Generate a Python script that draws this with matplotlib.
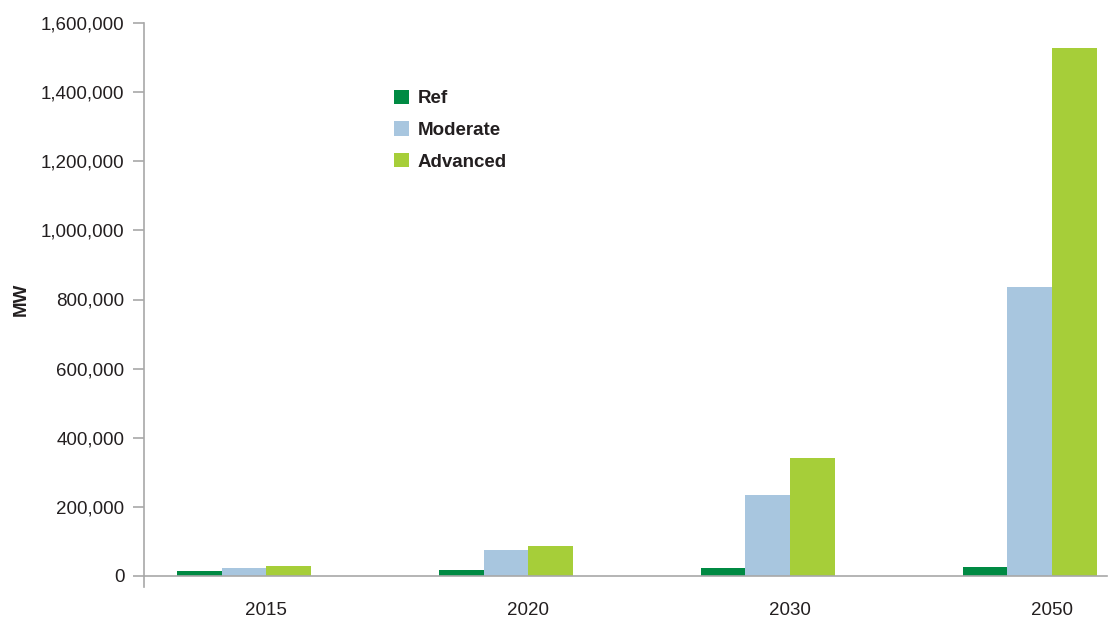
import matplotlib
matplotlib.use("Agg")
import matplotlib.pyplot as plt
import numpy as np
from matplotlib.ticker import FuncFormatter

# Installed capacity by scenario (MW)
years = ['2015', '2020', '2030', '2050']
ref = [15000, 17000, 23000, 26000]
moderate = [23000, 75000, 234000, 837000]
advanced = [29000, 87000, 341000, 1528000]

series = [('Ref', ref, '#008a43'),
          ('Moderate', moderate, '#a8c6df'),
          ('Advanced', advanced, '#a6ce39')]

plt.rcParams['font.family'] = ['Liberation Sans', 'DejaVu Sans']

fig = plt.figure(figsize=(11.08, 6.30), dpi=100)
ax = fig.add_axes([144 / 1108, 54 / 630, (1107 - 144) / 1108, (576 - 23) / 630])

x = np.arange(len(years))
width = 0.17
shift = -0.085  # bar groups sit slightly left of the year labels
for i, (name, vals, col) in enumerate(series):
    ax.bar(x + shift + (i - 1) * width, vals, width, color=col, label=name,
           linewidth=0, zorder=2)

ax.set_xlim(-0.466, 3.21)
ax.set_ylim(0, 1600000)
ax.set_yticks(np.arange(0, 1600001, 200000))
ax.yaxis.set_major_formatter(FuncFormatter(lambda v, p: f'{int(v):,}'))
ax.set_xticks(x)
ax.set_xticklabels(years)

for s in ['top', 'right']:
    ax.spines[s].set_visible(False)
for s in ['left', 'bottom']:
    ax.spines[s].set_color('#a8a8a8')
    ax.spines[s].set_linewidth(1.2)

ax.tick_params(axis='y', length=8, width=1.2, color='#a8a8a8', pad=6,
               labelsize=13.5, labelcolor='#231f20')
ax.tick_params(axis='x', length=0, pad=19, labelsize=13.5, labelcolor='#231f20')

# small extension of the value axis below zero
ax.plot([0, 0], [0, -0.02], transform=ax.transAxes, color='#a8a8a8',
        lw=1.2, clip_on=False)

ax.set_ylabel('MW', fontsize=13.5, fontweight='bold', color='#231f20')
ax.yaxis.set_label_coords(-0.119, 0.5)

leg = ax.legend(loc='upper left', bbox_to_anchor=(0.242, 0.91), frameon=False,
                fontsize=13.5, handlelength=0.8, handleheight=0.8,
                handletextpad=0.45, labelspacing=0.75)
for t in leg.get_texts():
    t.set_fontweight('bold')
    t.set_color('#231f20')

fig.savefig('out.png', dpi=100)
